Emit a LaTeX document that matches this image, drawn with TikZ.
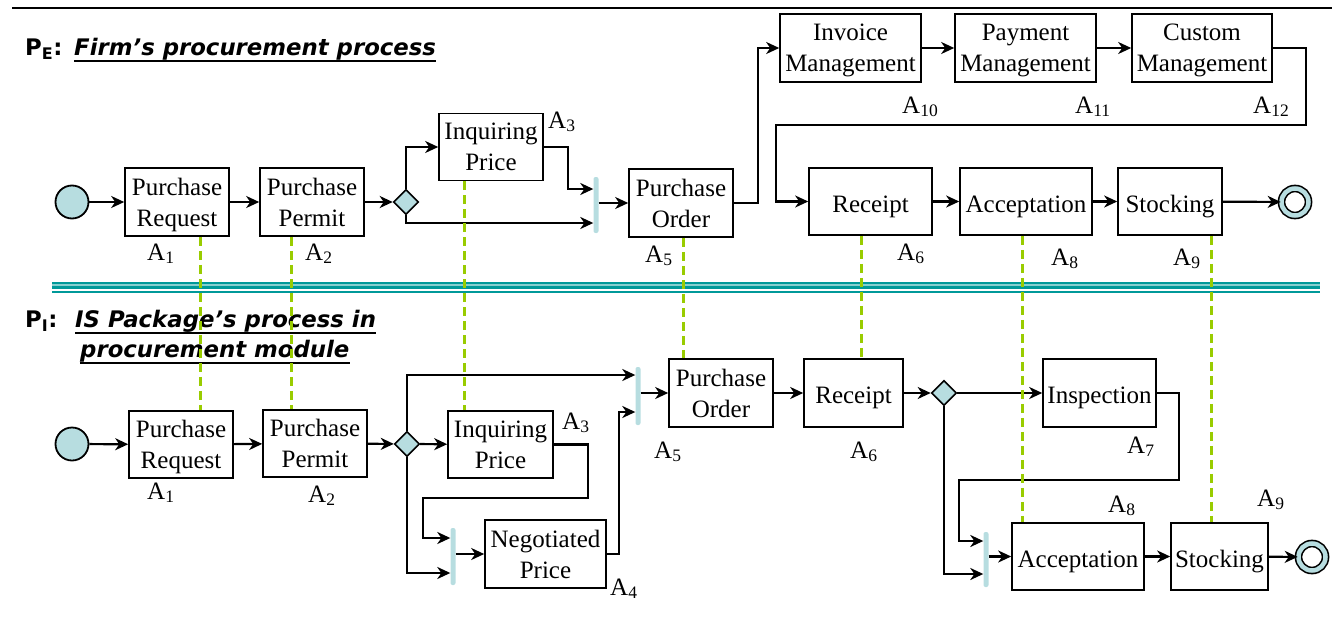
\documentclass[tikz,border=0pt]{standalone}
\usepackage{fontspec}
\setmainfont{Liberation Serif}
\newfontfamily\titlefont{DejaVu Sans}
\usetikzlibrary{arrows.meta,shapes.geometric}

\definecolor{gwfill}{HTML}{B7DDE0}
\definecolor{mapgreen}{HTML}{99CC00}
\definecolor{septeal}{HTML}{009999}
\definecolor{seplight}{HTML}{86CFCF}

\newcommand\actfont{\fontsize{25}{31}\selectfont}
\newcommand\ttlfont{\titlefont\fontsize{22.8}{30}\selectfont\bfseries}

\tikzset{
    act/.style={draw, line width=1.6pt, align=center, inner sep=0pt, font=\actfont,
        text depth=0pt, execute at begin node={\rule{0pt}{21pt}}},
    startev/.style={circle, draw, line width=1.8pt, fill=gwfill, minimum size=33pt, inner sep=0pt},
    endev/.style={circle, draw, line width=1.6pt, double=gwfill, double distance=4.5pt, fill=white, minimum size=27pt, inner sep=0pt},
    gate/.style={diamond, draw, line width=1.6pt, fill=gwfill, minimum size=25pt, inner sep=0pt},
    joinbar/.style={fill=gwfill, rounded corners=2pt, minimum width=5pt, inner sep=0pt},
    flow/.style={-{Stealth[length=13pt,width=12pt,inset=4pt]}, line width=2.2pt},
    mapline/.style={mapgreen, line width=3pt, dash pattern=on 9pt off 5pt},
    lbl/.style={anchor=base west, inner sep=0pt, font=\actfont},
    ttl/.style={anchor=base west, inner sep=0pt, font=\ttlfont},
}

\begin{document}
\begin{tikzpicture}[x=1pt,y=-1pt]
    \useasboundingbox (0,0) rectangle (1338,621);

    % rules
    \draw [line width=2.6pt] (12,8) -- (1332,8);
    \fill [septeal] (52,282) rectangle (1320,289);
    \fill [seplight] (52,284.3) rectangle (1320,286.3);
    \fill [septeal] (52,290.8) rectangle (1320,293);

    % titles
    \node (pe) [ttl] at (25,55) {P\textsubscript{E}:};
    \node (petext) [ttl] at (74,55) {\itshape Firm’s procurement process};
    \draw [line width=2pt] ([yshift=-1pt]petext.south west) -- ([yshift=-1pt]petext.south east);
    \node (pi) [ttl] at (25,327) {P\textsubscript{I}:};
    \node (pitext) [ttl] at (75,327) {\itshape IS Package’s process in};
    \node (pitextb) [ttl] at (80,357) {\itshape procurement module};
    \draw [line width=2pt] ([yshift=-1pt]pitext.south west) -- ([yshift=-1pt]pitext.south east);
    \draw [line width=2pt] ([yshift=-1pt]pitextb.south west) -- ([yshift=-1pt]pitextb.south east);

    % firm's process
    \node (startT) [startev] at (72,202) {};
    \node (reqT) [act, minimum width=104, minimum height=68] at (177,202) {Purchase\\Request};
    \node (perT) [act, minimum width=104, minimum height=68] at (312,202) {Purchase\\Permit};
    \node (gwT) [gate] at (406,202) {};
    \node (iqT) [act, minimum width=104, minimum height=67] at (491,147) {Inquiring\\Price};
    \node (barT) [joinbar, minimum height=56] at (596,205) {};
    \node (poT) [act, minimum width=104, minimum height=68] at (681,203) {Purchase\\Order};
    \node (invT) [act, minimum width=141, minimum height=68] at (850.5,48) {Invoice\\Management};
    \node (payT) [act, minimum width=141, minimum height=68] at (1025.5,48) {Payment\\Management};
    \node (cusT) [act, minimum width=140, minimum height=68] at (1202,48) {Custom\\Management};
    \node (rcT) [act, minimum width=123, minimum height=67] at (870.5,201.5) {Receipt};
    \node (acT) [act, minimum width=132, minimum height=67] at (1026,201.5) {Acceptation};
    \node (stT) [act, minimum width=104, minimum height=67] at (1170,201.5) {Stocking};
    \node (endT) [endev] at (1295,202) {};
    \coordinate (turnT) at (1306,125);
    \coordinate (retT) at (776,125);

    \path [flow]
        (startT) edge (reqT)
        (reqT) edge (perT)
        (perT) edge (gwT)
        (invT) edge (payT)
        (payT) edge (cusT)
        (rcT) edge (acT)
        (acT) edge (stT)
        (stT) edge (endT);
    \draw [flow] (gwT.north) |- (iqT.west);
    \draw [flow] (gwT.south) |- ([yshift=-18]barT.west);
    \draw [flow] (iqT.east) -- ++(24,0) |- ([yshift=16]barT.west);
    \draw [flow] (barT.east |- poT.west) -- (poT.west);
    \draw [flow] (poT.east) -- ++(24,0) |- (invT.west);
    \draw [flow] (cusT.east) -| (turnT) -- (retT) |- (rcT.west);

    \node [lbl] at (147,260) {A\textsubscript{1}};
    \node [lbl] at (305,260) {A\textsubscript{2}};
    \node [lbl] at (548,128) {A\textsubscript{3}};
    \node [lbl] at (645,262) {A\textsubscript{5}};
    \node [lbl] at (897,260) {A\textsubscript{6}};
    \node [lbl] at (1051,265) {A\textsubscript{8}};
    \node [lbl] at (1173,265) {A\textsubscript{9}};
    \node [lbl] at (902,113) {A\textsubscript{10}};
    \node [lbl] at (1075,113) {A\textsubscript{11}};
    \node [lbl] at (1253,113) {A\textsubscript{12}};

    % package's process
    \node (startB) [startev] at (72,444) {};
    \node (reqB) [act, minimum width=104, minimum height=67] at (181,444.5) {Purchase\\Request};
    \node (perB) [act, minimum width=104, minimum height=67] at (315,443.5) {Purchase\\Permit};
    \node (gwB) [gate] at (407,444) {};
    \node (iqB) [act, minimum width=105, minimum height=67] at (500.5,444.5) {Inquiring\\Price};
    \node (barL) [joinbar, minimum height=57] at (453,556.5) {};
    \node (ngB) [act, minimum width=121, minimum height=68] at (545.5,554) {Negotiated\\Price};
    \node (barU) [joinbar, minimum height=58] at (638,396) {};
    \node (poB) [act, minimum width=104, minimum height=68] at (721,393) {Purchase\\Order};
    \node (rcB) [act, minimum width=99, minimum height=68] at (853.5,393) {Receipt};
    \node (gwR) [gate] at (944,393) {};
    \node (inB) [act, minimum width=113, minimum height=68] at (1099.5,393) {Inspection};
    \node (barR) [joinbar, minimum height=55] at (986,559.5) {};
    \node (acB) [act, minimum width=132, minimum height=67] at (1078,556.5) {Acceptation};
    \node (stB) [act, minimum width=97, minimum height=67] at (1219.5,556.5) {Stocking};
    \node (endB) [endev] at (1312,557) {};
    \coordinate (iqBout) at (588,498);
    \coordinate (turnB) at (423,498);
    \coordinate (inBout) at (1179,480);
    \coordinate (turnR) at (959,480);

    \path [flow]
        (startB) edge (reqB)
        (reqB) edge (perB)
        (perB) edge (gwB)
        (gwB) edge (iqB)
        (poB) edge (rcB)
        (rcB) edge (gwR)
        (gwR) edge (inB)
        (acB) edge (stB)
        (stB) edge (endB);
    \draw [flow] (gwB.north) |- ([yshift=21]barU.west);
    \draw [flow] (iqB.east) -| (iqBout) -- (turnB) |- ([yshift=18.5]barL.west);
    \draw [flow] (gwB.south) |- ([yshift=-16.5]barL.west);
    \draw [flow] (barL.east |- ngB.west) -- (ngB.west);
    \draw [flow] (ngB.east) -- ++(12,0) |- ([yshift=-16]barU.west);
    \draw [flow] (barU.east |- poB.west) -- (poB.west);
    \draw [flow] (inB.east) -| (inBout) -- (turnR) |- ([yshift=18.5]barR.west);
    \draw [flow] (gwR.south) |- ([yshift=-14.5]barR.west);
    \draw [flow] (barR.east |- acB.west) -- (acB.west);

    \node [lbl] at (147,499) {A\textsubscript{1}};
    \node [lbl] at (308,502) {A\textsubscript{2}};
    \node [lbl] at (562,429) {A\textsubscript{3}};
    \node [lbl] at (610,595) {A\textsubscript{4}};
    \node [lbl] at (654,458) {A\textsubscript{5}};
    \node [lbl] at (850,458) {A\textsubscript{6}};
    \node [lbl] at (1127,453) {A\textsubscript{7}};
    \node [lbl] at (1108,512) {A\textsubscript{8}};
    \node [lbl] at (1257,506) {A\textsubscript{9}};

    % mapping between the two processes
    \draw [mapline] ([xshift=23]reqT.south) -- ([xshift=23]reqT.south |- reqB.north);
    \draw [mapline] ([xshift=-21]perT.south) -- ([xshift=-21]perT.south |- perB.north);
    \draw [mapline] ([xshift=-27]iqT.south) -- ([xshift=-27]iqT.south |- iqB.north);
    \draw [mapline] ([xshift=2]poT.south) -- ([xshift=2]poT.south |- poB.north);
    \draw [mapline] ([xshift=-9.5]rcT.south) -- ([xshift=-9.5]rcT.south |- rcB.north);
    \draw [mapline] ([xshift=-4]acT.south) -- ([xshift=-4]acT.south |- acB.north);
    \draw [mapline] ([xshift=41]stT.south) -- ([xshift=41]stT.south |- stB.north);
\end{tikzpicture}
\end{document}
